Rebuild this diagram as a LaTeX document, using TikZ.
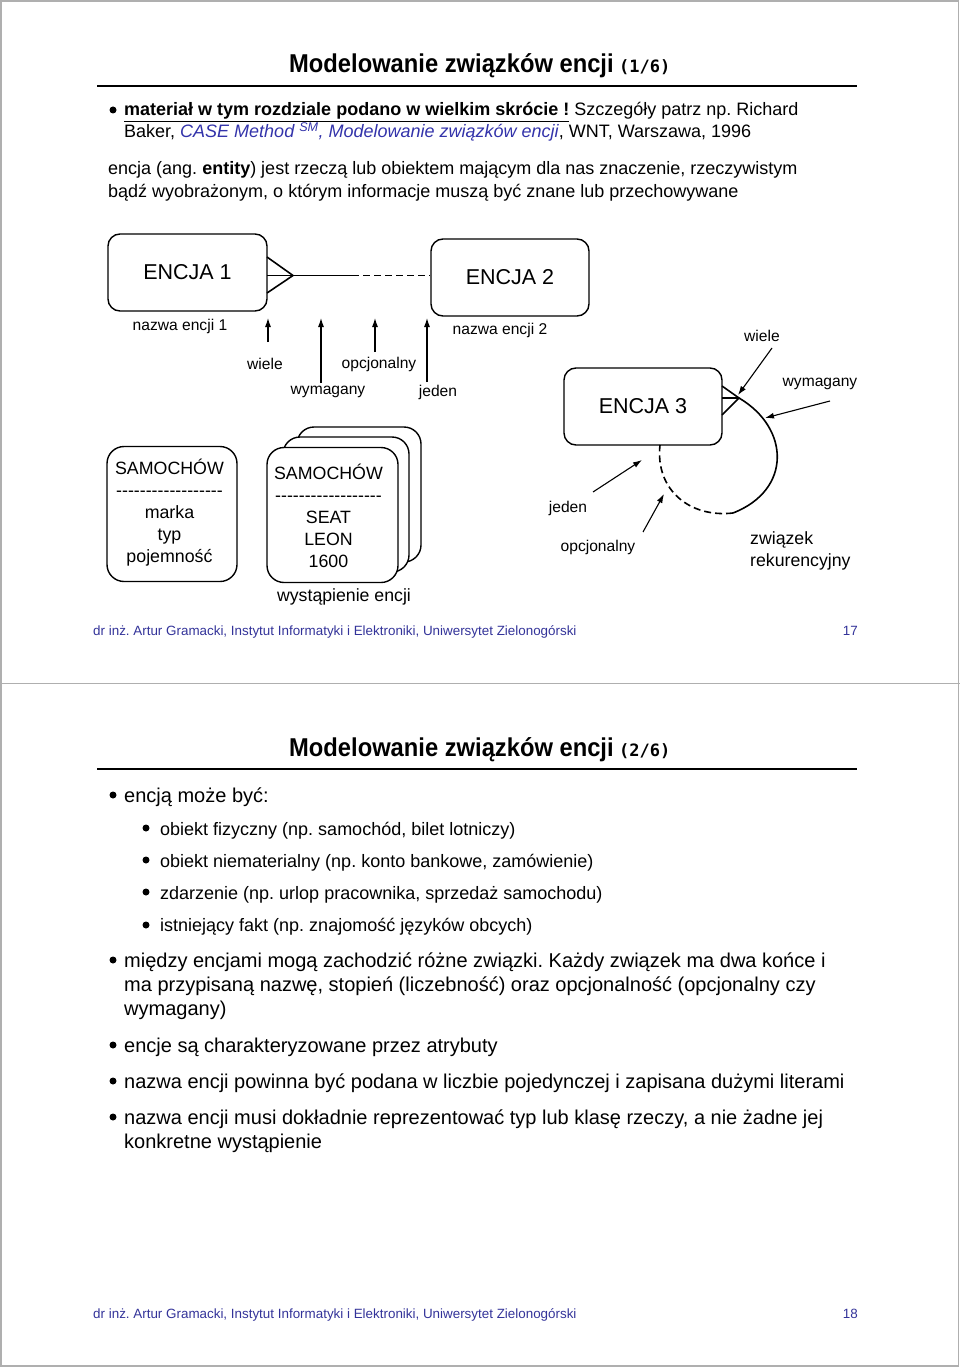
\documentclass[tikz,border=0pt]{standalone}
\usepackage{fontspec}
\setmainfont{Liberation Sans}
\newfontfamily\titlefont{Liberation Sans}[FakeStretch=0.92]
\newfontfamily\monob{DejaVu Sans Mono}
\usetikzlibrary{arrows.meta}
\definecolor{foot}{RGB}{51,51,153}
\definecolor{ital}{RGB}{51,51,170}
\definecolor{framec}{RGB}{175,175,175}
\newcommand\hh{\mbox{-}}
\newcommand\dashrow{\hh\hh\hh\hh\hh\hh\hh\hh\hh\hh\hh\hh\hh\hh\hh\hh\hh\hh}
\begin{document}
\frenchspacing
\begin{tikzpicture}[x=1pt,y=-1pt,
  txt/.style={anchor=base west,inner sep=0pt,font=\fontsize{18}{22}\selectfont},
  txtb/.style={anchor=base west,inner sep=0pt,font=\fontsize{20}{24}\selectfont},
  ttl/.style={anchor=base west,inner sep=0pt,font=\titlefont\fontsize{25.8}{28}\selectfont\bfseries},
  ttlnum/.style={anchor=base west,inner sep=0pt,font=\monob\bfseries\fontsize{17}{17}\selectfont},
  foottxt/.style={inner sep=0pt,text=foot,font=\fontsize{13.4}{16}\selectfont},
  ebox/.style={draw,line width=1.4pt,rounded corners=12pt,minimum width=158pt,minimum height=77pt,inner sep=0pt,font=\fontsize{21.5}{24}\selectfont},
  sbox/.style={draw,line width=1.4pt,rounded corners=17pt,fill=white,minimum width=131pt,minimum height=135pt,inner sep=0pt,align=center,font=\fontsize{17.8}{22}\selectfont},
  stxt/.style={inner sep=0pt,align=center,font=\fontsize{17.8}{22}\selectfont},
  lbl/.style={inner sep=0pt,font=\fontsize{15.6}{18}\selectfont},
  big/.style={inner sep=0pt,font=\fontsize{17.7}{22}\selectfont},
  ln/.style={line width=1.6pt},
  arr/.style={line width=1.1pt,-{Latex[length=9pt,width=6pt]}},
  bul/.style={fill=black}]
\useasboundingbox (0,0) rectangle (960,1367);
% frames
\draw[framec,line width=1.5pt] (1,0.8) rectangle (958.6,1366);
\draw[framec,line width=1.5pt] (0,683.3) -- (960,683.3);

% ---------------- page 1 ----------------
\node[ttl] (t1) at (289,73) {Modelowanie związków encji};
\node[ttlnum] (t1n) at ([xshift=5pt]t1.base east) {(1/6)};
\draw[line width=1.2pt] (97,86) -- (857,86);

\fill[bul] (113,110) circle[radius=3.5pt];
\node[txt] (l1) at (124,116) {\underline{\textbf{materiał w tym rozdziale podano w wielkim skrócie !}} Szczegóły patrz np. Richard};
\node[txt] (l2) at (124,138) {Baker, \textcolor{ital}{\itshape CASE Method \textsuperscript{SM}, Modelowanie związków encji}, WNT, Warszawa, 1996};
\node[txt] (p1) at (108,175) {encja (ang. \textbf{entity}) jest rzeczą lub obiektem mającym dla nas znaczenie, rzeczywistym};
\node[txt] (p2) at (108,197) {bądź wyobrażonym, o którym informacje muszą być znane lub przechowywane};

% entities
\node[ebox,minimum width=159pt] (e1) at (187.5,272.5) {ENCJA 1};
\node[ebox] (e2) at (510,277.5) {ENCJA 2};
\node[ebox] (e3) at (643,406.5) {ENCJA 3};

% crow's foot E1 - E2
\coordinate (c1) at (293,275.5);
\coordinate (c1a) at (267,257);
\coordinate (c1b) at (267,275.5);
\coordinate (c1c) at (267,293);
\coordinate (mid) at (352,275.5);
\draw[ln] (c1a) -- (c1) -- (c1c);
\draw[ln] (c1b) -- (c1) -- (mid);
\draw[ln,dash pattern=on 7pt off 4pt] (mid) -- (e2.west |- mid);

\node[lbl] (n1) at (180,326) {nazwa encji 1};
\node[lbl] (n2) at (500,330) {nazwa encji 2};

\node[lbl] (lwiele) at (265,364) {wiele};
\node[lbl] (lwym) at (328,392) {wymagany};
\node[lbl] (lopc) at (379,364) {opcjonalny};
\node[lbl] (ljed) at (438,392) {jeden};
\coordinate (a1s) at (268,342); \coordinate (a1e) at (268,318);
\coordinate (a2s) at (321,383); \coordinate (a2e) at (321,318);
\coordinate (a3s) at (375,352); \coordinate (a3e) at (375,318);
\coordinate (a4s) at (427,382); \coordinate (a4e) at (427,318);
\draw[arr] (a1s) -- (a1e);
\draw[arr] (a2s) -- (a2e);
\draw[arr] (a3s) -- (a3e);
\draw[arr] (a4s) -- (a4e);

% recursive relation on E3
\coordinate (c3) at (739,398);
\coordinate (c3a) at (722,386);
\coordinate (c3b) at (722,398);
\coordinate (c3c) at (722,415);
\coordinate (c3m) at (733,513);
\coordinate (c3e) at (660,445);
\draw[ln] (c3a) -- (c3) -- (c3c);
\draw[ln] (c3b) -- (c3);
\draw[ln] (c3) .. controls (790,428) and (792,490) .. (c3m);
\draw[ln,dash pattern=on 7pt off 4pt] (c3m) .. controls (690,518) and (655,490) .. (c3e);

\node[lbl] (rwiele) at (762,336) {wiele};
\node[lbl] (rwym) at (820,384) {wymagany};
\node[lbl] (rjed) at (568,508) {jeden};
\node[lbl] (ropc) at (598,547) {opcjonalny};
\coordinate (b1s) at (772,348); \coordinate (b1e) at (738,395);
\coordinate (b2s) at (830,401); \coordinate (b2e) at (765,418);
\coordinate (b3s) at (593,492); \coordinate (b3e) at (642,460);
\coordinate (b4s) at (643,532); \coordinate (b4e) at (664,494);
\draw[arr] (b1s) -- (b1e);
\draw[arr] (b2s) -- (b2e);
\draw[arr] (b3s) -- (b3e);
\draw[arr] (b4s) -- (b4e);

\node[big,anchor=west,align=left] (rek) at (750,551) {związek\\rekurencyjny};

% SAMOCHOD boxes
\node[sbox,minimum width=130pt] (s1) at (172,514) {};
\node[stxt] (s1t) at (169.5,513) {SAMOCHÓW\\\dashrow\\marka\\typ\\pojemność};
\node[sbox,minimum width=124pt] (s4) at (359,494.5) {};
\node[sbox,minimum width=126pt] (s3) at (346,504.5) {};
\node[sbox] (s2) at (332.5,515) {};
\node[stxt] (s2t) at (328.5,516) {SAMOCHÓW\\\dashrow\\SEAT\\LEON\\1600};
\node[big] (wyst) at (344,597) {wystąpienie encji};

\node[foottxt,anchor=base west] (f1) at (93,635) {dr inż. Artur Gramacki, Instytut Informatyki i Elektroniki, Uniwersytet Zielonogórski};
\node[foottxt,anchor=base east] (f1n) at (858,635) {17};

% ---------------- page 2 ----------------
\node[ttl] (t2) at (289,756) {Modelowanie związków encji};
\node[ttlnum] (t2n) at ([xshift=5pt]t2.base east) {(2/6)};
\draw[line width=1.2pt] (97,769) -- (857,769);

\fill[bul] (113,795) circle[radius=3.5pt];
\node[txtb] (q1) at (124,802) {encją może być:};
\fill[bul] (146,828) circle[radius=3.5pt];
\node[txt] (q1a) at (160,835) {obiekt fizyczny (np. samochód, bilet lotniczy)};
\fill[bul] (146,860) circle[radius=3.5pt];
\node[txt] (q1b) at (160,867) {obiekt niematerialny (np. konto bankowe, zamówienie)};
\fill[bul] (146,892) circle[radius=3.5pt];
\node[txt] (q1c) at (160,899) {zdarzenie (np. urlop pracownika, sprzedaż samochodu)};
\fill[bul] (146,925) circle[radius=3.5pt];
\node[txt] (q1d) at (160,931) {istniejący fakt (np. znajomość języków obcych)};

\fill[bul] (113,960) circle[radius=3.5pt];
\node[txtb] (q2a) at (124,967) {między encjami mogą zachodzić różne związki. Każdy związek ma dwa końce i};
\node[txtb] (q2b) at (124,991) {ma przypisaną nazwę, stopień (liczebność) oraz opcjonalność (opcjonalny czy};
\node[txtb] (q2c) at (124,1015) {wymagany)};
\fill[bul] (113,1045) circle[radius=3.5pt];
\node[txtb] (q3) at (124,1052) {encje są charakteryzowane przez atrybuty};
\fill[bul] (113,1081) circle[radius=3.5pt];
\node[txtb] (q4) at (124,1088) {nazwa encji powinna być podana w liczbie pojedynczej i zapisana dużymi literami};
\fill[bul] (113,1117) circle[radius=3.5pt];
\node[txtb] (q5a) at (124,1124) {nazwa encji musi dokładnie reprezentować typ lub klasę rzeczy, a nie żadne jej};
\node[txtb] (q5b) at (124,1148) {konkretne wystąpienie};

\node[foottxt,anchor=base west] (f2) at (93,1318) {dr inż. Artur Gramacki, Instytut Informatyki i Elektroniki, Uniwersytet Zielonogórski};
\node[foottxt,anchor=base east] (f2n) at (858,1318) {18};
\end{tikzpicture}
\end{document}
